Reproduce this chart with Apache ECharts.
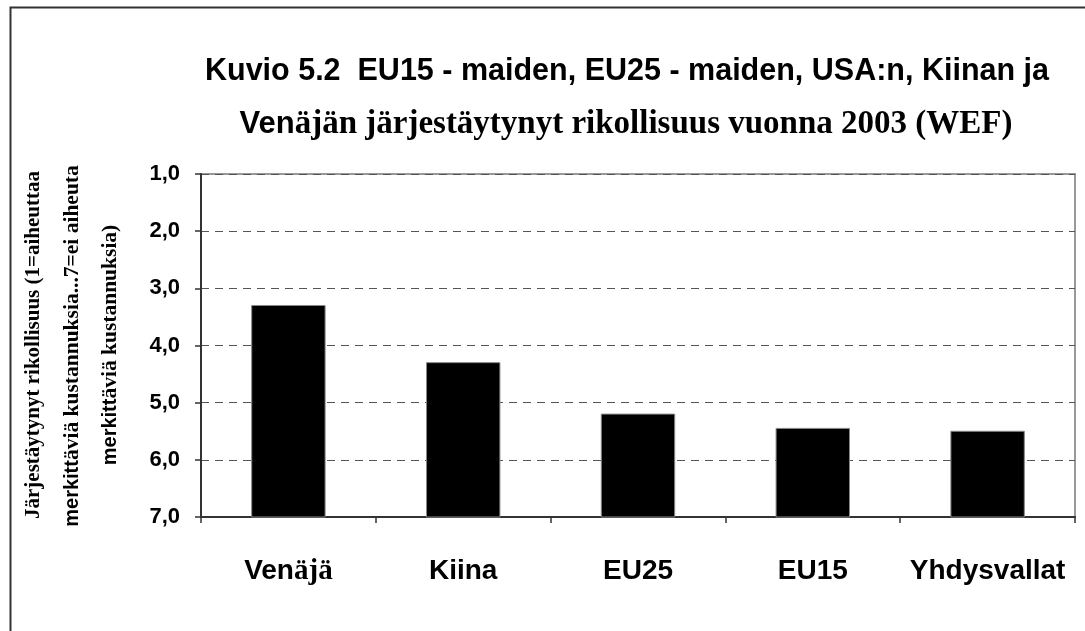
<!DOCTYPE html>
<html>
<head>
<meta charset="utf-8">
<script src="https://cdn.jsdelivr.net/npm/echarts@6/dist/echarts.min.js"></script>
<style>html,body{margin:0;padding:0;background:#fff;}#c{width:1085px;height:631px;}</style>
</head>
<body>
<div id="c"></div>
<script>
const categories = ['Venäjä', 'Kiina', 'EU25', 'EU15', 'Yhdysvallat'];
const values = [3.3, 4.3, 5.2, 5.45, 5.5];
const yMin = 1, yMax = 7, yStep = 1;
const titleLine1 = 'Kuvio 5.2  EU15 - maiden, EU25 - maiden, USA:n, Kiinan ja';
const titleLine2a = 'Ven';
const titleLine2b = 'äjän järjestäytynyt rikollisuus vuonna 2003 (WEF)';

const sans = 'Liberation Sans, Arial, sans-serif';
const serif = 'Liberation Serif, Times New Roman, serif';

const chart = echarts.init(document.getElementById('c'), null, {renderer: 'canvas'});

const catLabel = function (v) {
  if (v === 'Venäjä') return '{s|Ven}{t|äjä}';
  return '{s|' + v + '}';
};

chart.setOption({
  animation: false,
  backgroundColor: '#fff',
  grid: {left: 201, right: 10, top: 174, bottom: 114, show: true, borderColor: '#999', borderWidth: 2, backgroundColor: 'transparent'},
  xAxis: {
    type: 'category',
    data: categories,
    axisLine: {lineStyle: {color: '#333', width: 2}},
    axisTick: {show: true, length: 6, lineStyle: {color: '#333', width: 1.5}},
    axisLabel: {
      margin: 40,
      formatter: catLabel,
      rich: {
        s: {fontFamily: sans, fontWeight: 'bold', fontSize: 28, color: '#000'},
        t: {fontFamily: serif, fontWeight: 'bold', fontSize: 29, color: '#000'}
      }
    }
  },
  yAxis: {
    type: 'value',
    min: yMin, max: yMax, interval: yStep,
    inverse: true,
    axisLine: {show: true, lineStyle: {color: '#333', width: 2}},
    axisTick: {show: true, length: 6, lineStyle: {color: '#333', width: 1.5}},
    axisLabel: {
      margin: 21,
      fontFamily: sans, fontWeight: 'bold', fontSize: 22, color: '#000',
      formatter: function (v) { return v.toFixed(1).replace('.', ','); }
    },
    splitLine: {show: true, lineStyle: {color: '#555', type: [8, 6], width: 1}}
  },
  series: [{
    type: 'custom',
    data: values.map(function (v, i) { return [i, v]; }),
    renderItem: function (params, api) {
      const i = api.value(0);
      const top = api.coord([i, api.value(1)]);
      const base = api.coord([i, yMax]);
      const w = api.size([1, 0])[0] * 0.42;
      return {
        type: 'rect',
        shape: {x: top[0] - w / 2, y: top[1], width: w, height: base[1] - top[1]},
        style: {fill: '#000', stroke: '#888', lineWidth: 1}
      };
    },
    z: 3
  }],
  graphic: [
    {type: 'rect', left: 8, top: 5, shape: {width: 1200, height: 800}, style: {fill: 'none', stroke: '#333', lineWidth: 2}, silent: true, z: 0},
    {type: 'text', x: 627, y: 72, style: {text: titleLine1, fontFamily: sans, fontWeight: 'bold', fontSize: 30.5, fill: '#000', align: 'center', verticalAlign: 'middle'}},
    {type: 'text', x: 626, y: 124, style: {
      text: '{s|' + titleLine2a + '}{t|' + titleLine2b + '}', align: 'center', verticalAlign: 'middle',
      rich: {
        s: {fontFamily: sans, fontWeight: 'bold', fontSize: 31, fill: '#000'},
        t: {fontFamily: serif, fontWeight: 'bold', fontSize: 33, fill: '#000'}
      }
    }},
    {type: 'text', x: 34, y: 345, rotation: Math.PI / 2, style: {
      text: 'Järjestäytynyt rikollisuus (1=aiheuttaa', fontFamily: serif, fontWeight: 'bold', fontSize: 21, fill: '#000', align: 'center', verticalAlign: 'middle'}},
    {type: 'text', x: 72, y: 346, rotation: Math.PI / 2, style: {
      text: '{s|merkitt}{t|äviä kustannuksia...7=ei aiheuta}', align: 'center', verticalAlign: 'middle',
      rich: {
        s: {fontFamily: sans, fontWeight: 'bold', fontSize: 20, fill: '#000'},
        t: {fontFamily: serif, fontWeight: 'bold', fontSize: 21.5, fill: '#000'}
      }
    }},
    {type: 'text', x: 110, y: 345, rotation: Math.PI / 2, style: {
      text: '{s|merkitt}{t|äviä kustannuksia)}', align: 'center', verticalAlign: 'middle',
      rich: {
        s: {fontFamily: sans, fontWeight: 'bold', fontSize: 20, fill: '#000'},
        t: {fontFamily: serif, fontWeight: 'bold', fontSize: 21.5, fill: '#000'}
      }
    }}
  ]
});
</script>
</body>
</html>
